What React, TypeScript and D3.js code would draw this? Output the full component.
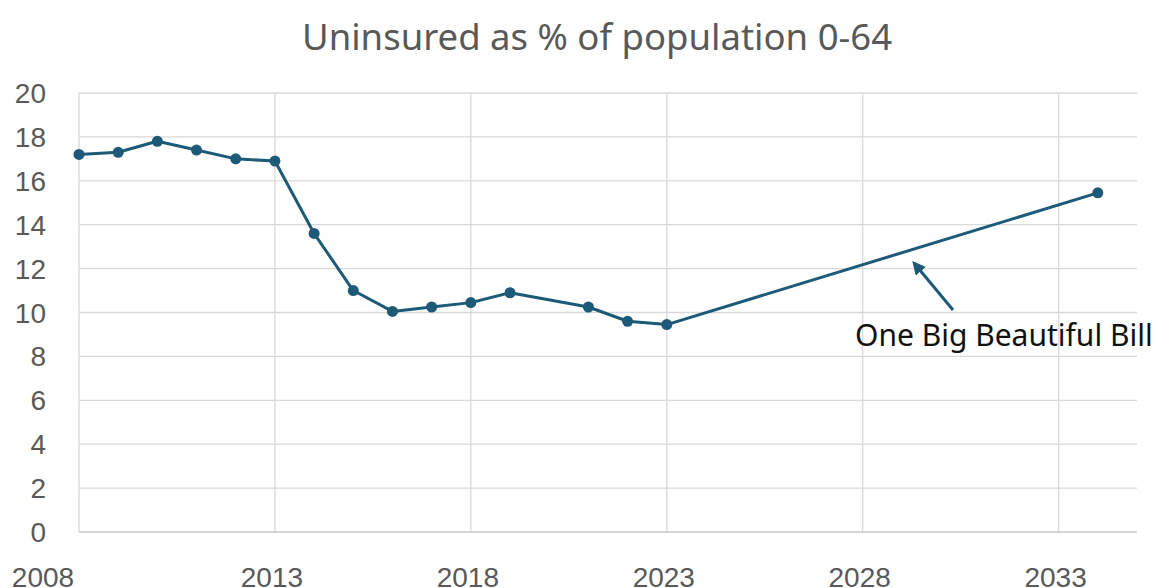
import React from "react";
import * as d3 from "d3";

const years = [2008, 2009, 2010, 2011, 2012, 2013, 2014, 2015, 2016, 2017, 2018, 2019, 2021, 2022, 2023, 2034];
const uninsured = [17.2, 17.3, 17.8, 17.4, 17.0, 16.9, 13.6, 11.0, 10.05, 10.25, 10.45, 10.9, 10.25, 9.6, 9.45, 15.45];
const xTicks = [2008, 2013, 2018, 2023, 2028, 2033];
const yTicks = [0, 2, 4, 6, 8, 10, 12, 14, 16, 18, 20];
const title = "Uninsured as % of population 0-64";
const annotation = "One Big Beautiful Bill";

const W = 1159;
const H = 588;
const LINE = "#1d5a78";
const GRID = "#d9d9d9";
const TXT = "#595959";

export default function App() {
  const x = d3.scaleLinear().domain([2008, 2035]).range([79, 1137]);
  const y = d3.scaleLinear().domain([0, 20]).range([532, 93]);
  const pts = years.map((yr, i) => [yr, uninsured[i]] as [number, number]);
  const line = d3
    .line<[number, number]>()
    .x((d) => x(d[0]))
    .y((d) => y(d[1]));
  const [x0, x1] = x.range();
  const font = "'Liberation Sans', Arial, sans-serif";

  return (
    <svg
      width={W}
      height={H}
      style={{ position: "absolute", left: 0, top: 0, background: "#fff" }}
      fontFamily={font}
    >
      <defs>
        <marker id="arr" viewBox="0 0 10 10" refX="8" refY="5" markerWidth="4.5" markerHeight="4.5" orient="auto-start-reverse">
          <path d="M0,0 L10,5 L0,10 z" fill={LINE} />
        </marker>
      </defs>
      <rect x={0} y={0} width={W} height={H} fill="#fff" />
      <text x={597} y={50} textAnchor="middle" fontSize={36.5} fill={TXT} fontFamily="'Noto Sans', sans-serif">
        {title}
      </text>
      {yTicks.filter((t) => t > 0).map((t) => (
        <line key={"h" + t} x1={x0} x2={x1} y1={y(t)} y2={y(t)} stroke={GRID} strokeWidth={1.3} />
      ))}
      {xTicks.map((t) => (
        <line key={"v" + t} x1={x(t)} x2={x(t)} y1={y(20)} y2={y(0)} stroke={GRID} strokeWidth={1.3} />
      ))}
      <line x1={x0} x2={x1} y1={y(0)} y2={y(0)} stroke="#c8c8c8" strokeWidth={1.5} />
      {yTicks.map((t) => (
        <text key={"yl" + t} x={46} y={y(t)} dy="0.36em" textAnchor="end" fontSize={28} fill={TXT}>
          {t}
        </text>
      ))}
      {xTicks.map((t, i) => (
        <text key={"xl" + t} x={x(t) - (i === 0 ? 36 : 3)} y={587} textAnchor="middle" fontSize={28} fill={TXT}>
          {t}
        </text>
      ))}
      <path d={line(pts) || ""} fill="none" stroke={LINE} strokeWidth={3} strokeLinejoin="round" />
      {pts.map((d, i) => (
        <circle key={"c" + i} cx={x(d[0])} cy={y(d[1])} r={5.5} fill={LINE} />
      ))}
      <line x1={953} y1={310} x2={914} y2={263} stroke={LINE} strokeWidth={3} markerEnd="url(#arr)" />
      <text x={855} y={346} fontSize={30} fill="#111" fontFamily="'Noto Sans', sans-serif">
        {annotation}
      </text>
    </svg>
  );
}
